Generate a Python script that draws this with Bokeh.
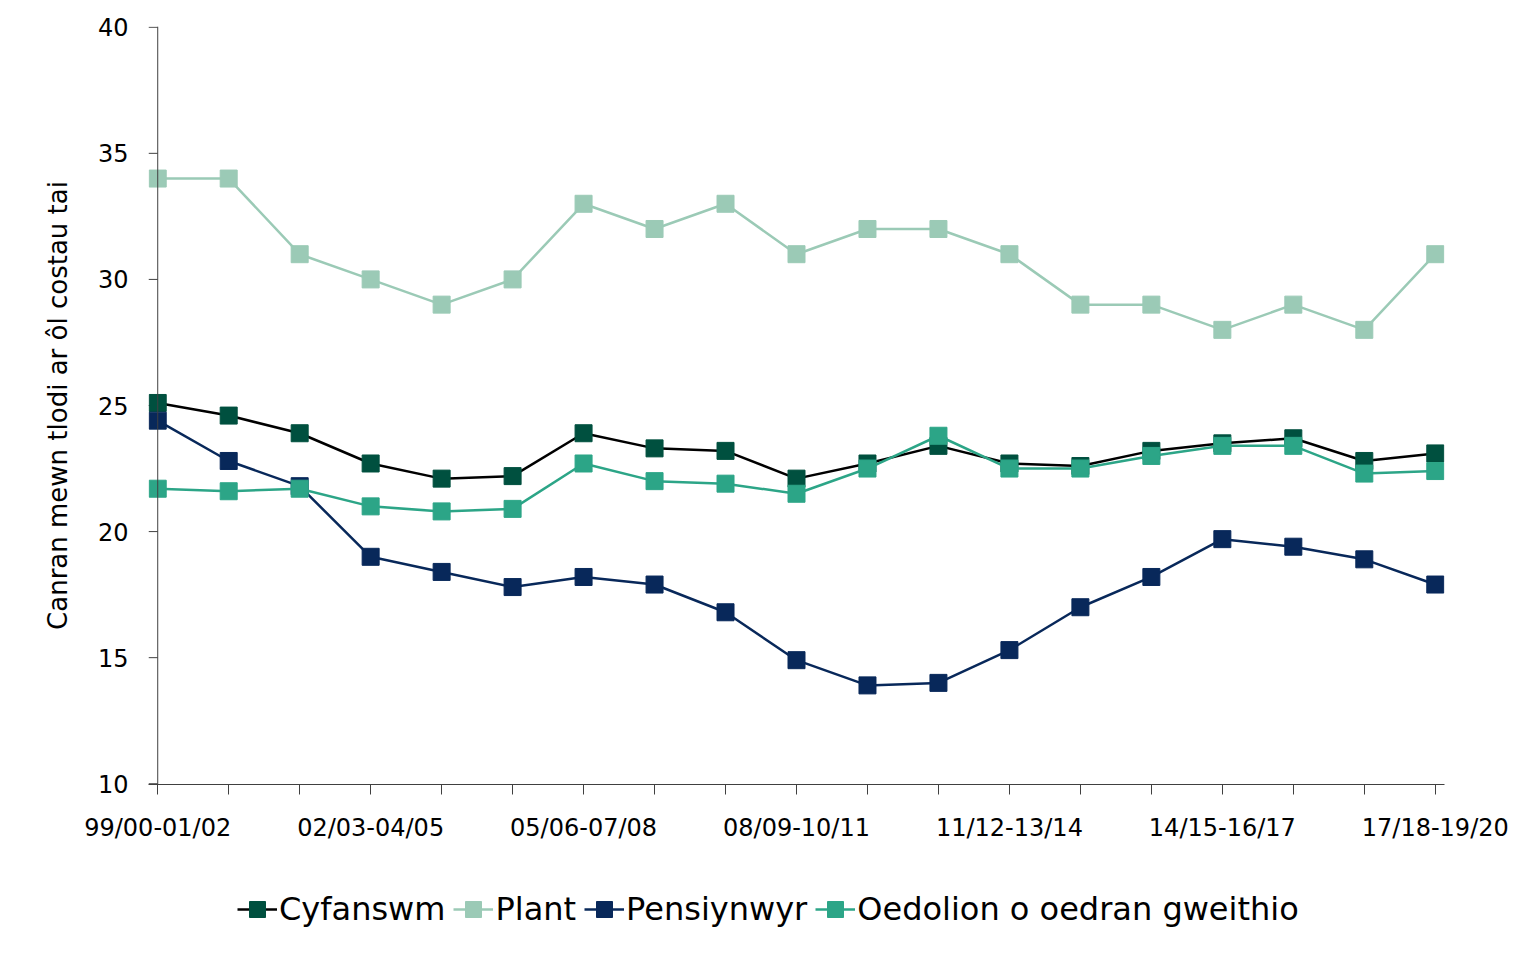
from bokeh.plotting import figure
from bokeh.layouts import column
from bokeh.models import Range1d, FixedTicker, Legend, LegendItem, Span
from bokeh.embed import file_html
from bokeh.resources import INLINE

periods = ["99/00-01/02", "00/01-02/03", "01/02-03/04", "02/03-04/05", "03/04-05/06",
           "04/05-06/07", "05/06-07/08", "06/07-08/09", "07/08-09/10", "08/09-10/11",
           "09/10-11/12", "10/11-12/13", "11/12-13/14", "12/13-14/15", "13/14-15/16",
           "14/15-16/17", "15/16-17/18", "16/17-18/19", "17/18-19/20"]
shown_labels = ["99/00-01/02", "02/03-04/05", "05/06-07/08", "08/09-10/11",
                "11/12-13/14", "14/15-16/17", "17/18-19/20"]

cyfanswm = [25.1, 24.6, 23.9, 22.7, 22.1, 22.2, 23.9, 23.3, 23.2, 22.1,
            22.7, 23.4, 22.7, 22.6, 23.2, 23.5, 23.7, 22.8, 23.1]
plant = [34, 34, 31, 30, 29, 30, 33, 32, 33, 31, 32, 32, 31, 29, 29, 28, 29, 28, 31]
pensiynwyr = [24.4, 22.8, 21.8, 19.0, 18.4, 17.8, 18.2, 17.9, 16.8, 14.9,
              13.9, 14.0, 15.3, 17.0, 18.2, 19.7, 19.4, 18.9, 17.9]
oedolion = [21.7, 21.6, 21.7, 21.0, 20.8, 20.9, 22.7, 22.0, 21.9, 21.5,
            22.5, 23.8, 22.5, 22.5, 23.0, 23.4, 23.4, 22.3, 22.4]

y_ticks = [10, 15, 20, 25, 30, 35, 40]
series_names = ["Cyfanswm", "Plant", "Pensiynwyr", "Oedolion o oedran gweithio"]

FONT = "DejaVu Sans"
AXIS_COLOR = "#404040"
xs = list(range(len(periods)))
PAD = 0.13
TOTAL_W = 148 + 1296 + 70

p = figure(frame_width=1296, frame_height=758, output_backend="svg", toolbar_location=None,
           x_range=Range1d(-PAD, len(periods) - 1 + PAD),
           y_range=Range1d(y_ticks[0] - 0.03, y_ticks[-1] + 0.03),
           min_border_left=148, min_border_right=70, min_border_top=26,
           min_border_bottom=96)
p.background_fill_color = "white"
p.border_fill_color = "white"
p.outline_line_color = None
p.grid.visible = False

# y axis line at the first category and its outward ticks
p.add_layout(Span(location=xs[0], dimension="height", line_color=AXIS_COLOR, line_width=1))
p.segment(x0=[-PAD] * len(y_ticks), x1=[xs[0]] * len(y_ticks), y0=y_ticks, y1=y_ticks,
          line_color=AXIS_COLOR, line_width=1)

series = [
    (cyfanswm, "#000000", "#00503F"),
    (plant, "#9BCAB6", "#9BCAB6"),
    (pensiynwyr, "#08285A", "#08285A"),
    (oedolion, "#2CA587", "#2CA587"),
]
for vals, lc, mc in series:
    p.line(xs, vals, line_color=lc, line_width=2.5)
    p.scatter(xs, vals, marker="square", size=17, fill_color=mc, line_color=mc)

# axes
p.xaxis.ticker = FixedTicker(ticks=xs)
p.xaxis.major_label_overrides = {i: (lab if lab in shown_labels else "") for i, lab in enumerate(periods)}
p.yaxis.ticker = FixedTicker(ticks=y_ticks)
for ax in (p.xaxis, p.yaxis):
    ax.axis_line_color = AXIS_COLOR
    ax.axis_line_width = 1
    ax.major_tick_line_color = AXIS_COLOR
    ax.major_tick_out = 10
    ax.major_tick_in = 0
    ax.minor_tick_out = 0
    ax.minor_tick_in = 0
    ax.major_label_text_font = FONT
    ax.major_label_text_font_size = "24px"
    ax.major_label_text_color = "#000000"
p.yaxis.axis_line_color = None
p.yaxis.major_tick_line_color = None
p.xaxis.major_label_standoff = 19
p.yaxis.major_label_standoff = 10
p.yaxis.axis_label = "Canran mewn tlodi ar ôl costau tai"
p.yaxis.axis_label_text_font = FONT
p.yaxis.axis_label_text_font_size = "26px"
p.yaxis.axis_label_text_font_style = "normal"
p.yaxis.axis_label_text_color = "#000000"
p.yaxis.axis_label_standoff = 22

# legend strip below the chart (its glyph copies lie outside the strip's visible range)
lp = figure(width=TOTAL_W, height=58, output_backend="svg", toolbar_location=None,
            x_range=Range1d(-3, -2), y_range=Range1d(0, 1),
            min_border_left=0, min_border_right=0, min_border_top=0, min_border_bottom=0)
lp.axis.visible = False
lp.grid.visible = False
lp.outline_line_color = None
lp.background_fill_color = "white"
lp.border_fill_color = "white"
items = []
for (vals, lc, mc), name in zip(series, series_names):
    ln = lp.line(xs, vals, line_color=lc, line_width=2.5)
    sc = lp.scatter(xs, vals, marker="square", size=17, fill_color=mc, line_color=mc)
    items.append(LegendItem(label=name, renderers=[ln, sc]))
legend = Legend(items=items, orientation="horizontal", location=(89, 9),
                label_text_font=FONT, label_text_font_size="32px",
                label_text_color="#000000", glyph_width=40, glyph_height=40,
                label_standoff=2, spacing=8, border_line_color=None,
                background_fill_alpha=0, margin=0, padding=0)
lp.add_layout(legend, "center")

open("out.html", "w").write(file_html(column(p, lp, spacing=0), INLINE))
